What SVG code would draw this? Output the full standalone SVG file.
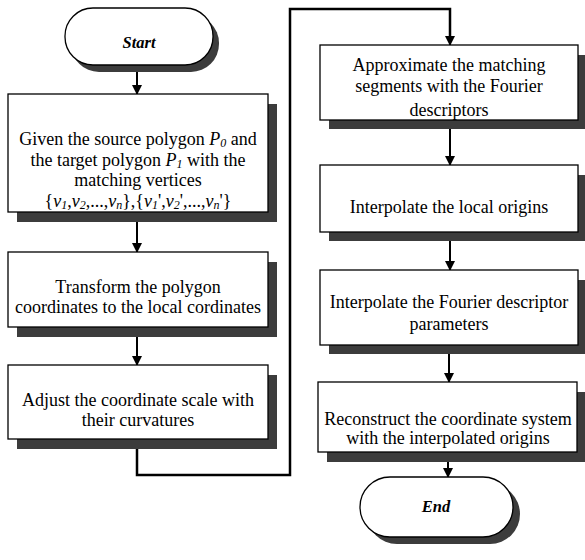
<svg xmlns="http://www.w3.org/2000/svg" width="585" height="560" viewBox="0 0 585 560">
<style>
.box{fill:#fff;stroke:#000;stroke-width:1.3}
.sh{fill:#3c3c3c}
.t{font-family:'Liberation Serif','DejaVu Serif',serif;font-size:18px;fill:#000;text-anchor:middle}
.term{font-family:'Liberation Serif','DejaVu Serif',serif;font-size:16.5px;font-weight:bold;font-style:italic;fill:#000;text-anchor:middle}
.i{font-style:italic}
.s{font-style:italic;font-size:12px}
.ln{fill:none;stroke:#000;stroke-width:2}
.loop{fill:none;stroke:#000;stroke-width:2.5}
</style>
<defs>
<marker id="ah" markerWidth="10" markerHeight="12" refX="9" refY="5" orient="auto" markerUnits="userSpaceOnUse" viewBox="0 0 10 10">
<path d="M0,0 L10,5 L0,10 z" fill="#000"/>
</marker>
</defs>
<rect width="585" height="560" fill="#fff"/>
<g id="connectors">
<line class="ln" x1="137" y1="71" x2="137" y2="94" marker-end="url(#ah)"/>
<line class="ln" x1="137" y1="221" x2="137" y2="252" marker-end="url(#ah)"/>
<line class="ln" x1="137" y1="337" x2="137" y2="365" marker-end="url(#ah)"/>
<polyline class="loop" points="137,448 137,475 290,475 290,9 450,9 450,36"/>
<line class="ln" x1="450" y1="30" x2="450" y2="45" marker-end="url(#ah)"/>
<line class="ln" x1="450" y1="129" x2="450" y2="165" marker-end="url(#ah)"/>
<line class="ln" x1="450" y1="241" x2="450" y2="270" marker-end="url(#ah)"/>
<line class="ln" x1="449" y1="354" x2="449" y2="382" marker-end="url(#ah)"/>
<line class="ln" x1="448" y1="461" x2="448" y2="477" marker-end="url(#ah)"/>
</g>
<g id="start">
<rect class="sh" x="71" y="15" width="148" height="57" rx="28"/>
<rect class="box" x="65" y="8" width="148" height="57" rx="28"/>
<text class="term" x="139" y="48">Start</text>
</g>
<g id="given">
<rect class="sh" x="17" y="104" width="260" height="118"/>
<rect class="box" x="8" y="94" width="260" height="118"/>
<text class="t" x="138" y="145">Given the source polygon <tspan class="i">P</tspan><tspan class="s" dy="2">0</tspan><tspan dy="-2"> and</tspan></text>
<text class="t" x="138" y="166">the target polygon <tspan class="i">P</tspan><tspan class="s" dy="2">1</tspan><tspan dy="-2"> with the</tspan></text>
<text class="t" x="138" y="186">matching vertices</text>
<text class="t" x="138" y="207">{<tspan class="i">v</tspan><tspan class="s" dy="2">1</tspan><tspan dy="-2">,</tspan><tspan class="i">v</tspan><tspan class="s" dy="2">2</tspan><tspan dy="-2">,...,</tspan><tspan class="i">v</tspan><tspan class="s" dy="2">n</tspan><tspan dy="-2">},{</tspan><tspan class="i">v</tspan><tspan class="s" dy="2">1</tspan><tspan dy="-2">',</tspan><tspan class="i">v</tspan><tspan class="s" dy="2">2</tspan><tspan dy="-2">',...,</tspan><tspan class="i">v</tspan><tspan class="s" dy="2">n</tspan><tspan dy="-2">'}</tspan></text>
</g>
<g id="transform">
<rect class="sh" x="17" y="262" width="260" height="75"/>
<rect class="box" x="8" y="252" width="260" height="75"/>
<text class="t" x="138" y="293">Transform the polygon</text>
<text class="t" x="138" y="313">coordinates to the local cordinates</text>
</g>
<g id="adjust">
<rect class="sh" x="17" y="375" width="260" height="74"/>
<rect class="box" x="8" y="365" width="260" height="74"/>
<text class="t" x="138" y="406">Adjust the coordinate scale with</text>
<text class="t" x="138" y="426">their curvatures</text>
</g>
<g id="approx">
<rect class="sh" x="329" y="55" width="258" height="74"/>
<rect class="box" x="320" y="45" width="258" height="75"/>
<text class="t" x="449" y="71">Approximate the matching</text>
<text class="t" x="449" y="92">segments with the Fourier</text>
<text class="t" x="449" y="116">descriptors</text>
</g>
<g id="origins">
<rect class="sh" x="329" y="175" width="258" height="66"/>
<rect class="box" x="320" y="165" width="258" height="67"/>
<text class="t" x="449" y="213">Interpolate the local origins</text>
</g>
<g id="params">
<rect class="sh" x="329" y="280" width="258" height="74"/>
<rect class="box" x="320" y="270" width="258" height="75"/>
<text class="t" x="449" y="308">Interpolate the Fourier descriptor</text>
<text class="t" x="449" y="330">parameters</text>
</g>
<g id="reconstruct">
<rect class="sh" x="327" y="392" width="258" height="70"/>
<rect class="box" x="318" y="382" width="259" height="70"/>
<text class="t" x="448" y="425">Reconstruct the coordinate system</text>
<text class="t" x="448" y="444">with the interpolated origins</text>
</g>
<g id="end">
<rect class="sh" x="367" y="484" width="153" height="60" rx="30"/>
<rect class="box" x="360" y="477" width="153" height="60" rx="30"/>
<text class="term" x="436" y="512">End</text>
</g>
</svg>
